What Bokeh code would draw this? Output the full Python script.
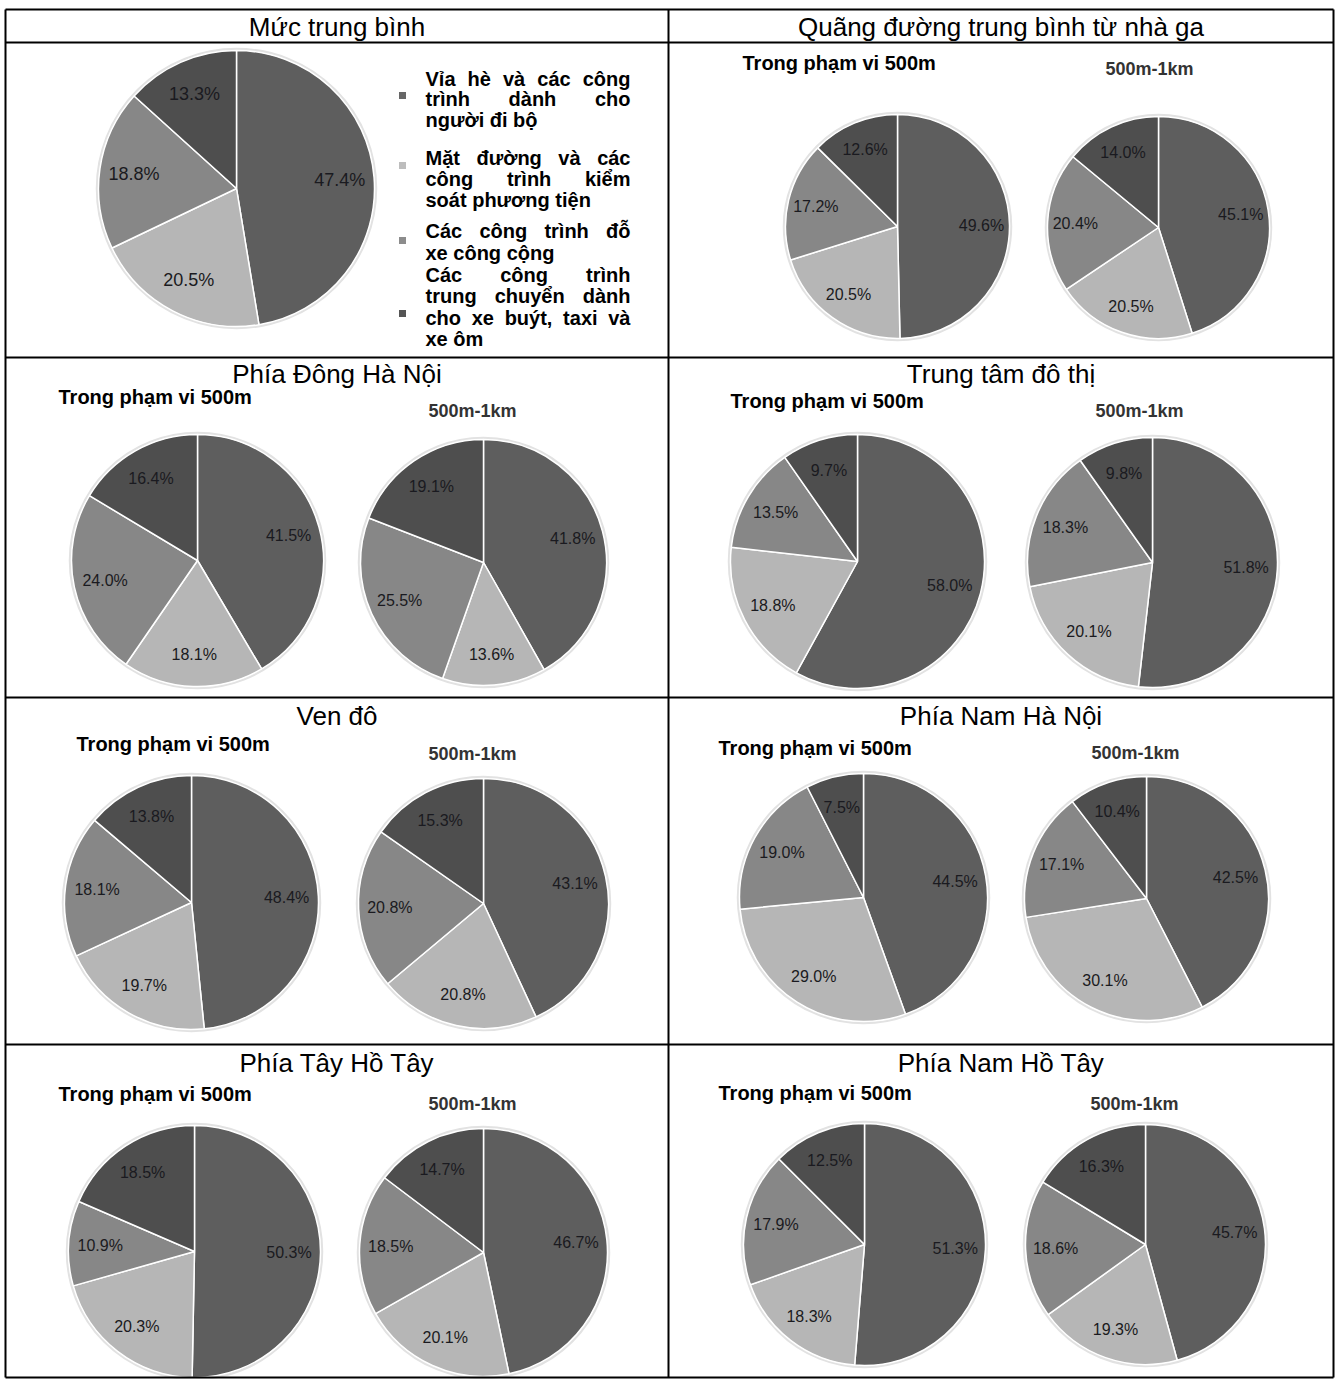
import glob
import numpy as np
from bokeh.plotting import figure
from bokeh.models import ColumnDataSource, Range1d
from bokeh.core.properties import value
from bokeh.embed import file_html
from bokeh.resources import INLINE

# ---- data -----------------------------------------------------------------
categories = [
    "Vỉa hè và các công trình dành cho người đi bộ",
    "Mặt đường và các công trình kiểm soát phương tiện",
    "Các công trình đỗ xe công cộng",
    "Các công trình trung chuyển dành cho xe buýt, taxi và xe ôm",
]
# legend text broken into the printed lines of each entry
legend_lines = [
    ["Vỉa hè và các công", "trình dành cho", "người đi bộ"],
    ["Mặt đường và các", "công trình kiểm", "soát phương tiện"],
    ["Các công trình đỗ", "xe công cộng"],
    ["Các công trình", "trung chuyển dành", "cho xe buýt, taxi và", "xe ôm"],
]
panel_titles = [
    "Mức trung bình", "Quãng đường trung bình từ nhà ga",
    "Phía Đông Hà Nội", "Trung tâm đô thị",
    "Ven đô", "Phía Nam Hà Nội",
    "Phía Tây Hồ Tây", "Phía Nam Hồ Tây",
]
sub_near = "Trong phạm vi 500m"
sub_far = "500m-1km"

avg_all = [47.4, 20.5, 18.8, 13.3]
station_500 = [49.6, 20.5, 17.2, 12.6]
station_1km = [45.1, 20.5, 20.4, 14.0]
east_500 = [41.5, 18.1, 24.0, 16.4]
east_1km = [41.8, 13.6, 25.5, 19.1]
center_500 = [58.0, 18.8, 13.5, 9.7]
center_1km = [51.8, 20.1, 18.3, 9.8]
suburb_500 = [48.4, 19.7, 18.1, 13.8]
suburb_1km = [43.1, 20.8, 20.8, 15.3]
south_500 = [44.5, 29.0, 19.0, 7.5]
south_1km = [42.5, 30.1, 17.1, 10.4]
westlake_w_500 = [50.3, 20.3, 10.9, 18.5]
westlake_w_1km = [46.7, 20.1, 18.5, 14.7]
westlake_s_500 = [51.3, 18.3, 17.9, 12.5]
westlake_s_1km = [45.7, 19.3, 18.6, 16.3]

# ---- page geometry ----------------------------------------------------------
W, H = 1337, 1379
X_L, X_M, X_R = 5, 668, 1333
ROW_LINES = [9, 42, 357, 697, 1044, 1377]

SLICE_COLORS = ["#5e5e5e", "#b6b6b6", "#878787", "#4e4e4e"]
MARK_COLORS = ["#676767", "#bdbdbd", "#8c8c8c", "#555555"]
FONT = "Liberation Sans"


def Y(top):
    return H - top


p = figure(width=W, height=H, output_backend="svg", toolbar_location=None,
           x_range=Range1d(0, W), y_range=Range1d(0, H),
           x_axis_location=None, y_axis_location=None, min_border=0)
p.grid.visible = False
p.outline_line_color = None
p.background_fill_color = "white"
p.border_fill_color = "white"


def draw_pie(vals, cx, cy, r, fs):
    v = np.array(vals, dtype=float)
    frac = v / v.sum()
    c1 = np.cumsum(frac)
    c0 = c1 - frac
    start = np.pi / 2 - 2 * np.pi * c1
    end = np.pi / 2 - 2 * np.pi * c0
    src = ColumnDataSource(dict(start=start, end=end, color=SLICE_COLORS))
    # soft rim around each pie
    p.circle(x=cx, y=Y(cy), radius=r + 1.5, fill_color=None,
             line_color="#e2e2e2", line_width=2.5)
    p.wedge(x=cx, y=Y(cy), radius=r, start_angle="start", end_angle="end",
            fill_color="color", line_color="white", line_width=1.5, source=src)
    mid = np.pi / 2 - 2 * np.pi * (c0 + c1) / 2
    lsrc = ColumnDataSource(dict(
        x=cx + 0.75 * r * np.cos(mid),
        y=Y(cy) + 0.75 * r * np.sin(mid),
        t=[f"{x:.1f}%" for x in vals]))
    p.text(x="x", y="y", text="t", source=lsrc, text_font=value(FONT),
           text_font_size=f"{fs}px", text_color="#1a1a20",
           text_align="center", text_baseline="middle")


def label(x, top, txt, size, bold=False, align="center", color="#000000"):
    p.text(x=[x], y=[Y(top)], text=[txt], text_font=value(FONT),
           text_font_size=f"{size}px", text_font_style="bold" if bold else "normal",
           text_color=color, text_align=align, text_baseline="middle")


# ---- text measuring for the justified legend ---------------------------------
def _font_path(name):
    for root in ("/usr/share/fonts", "/usr/local/share/fonts", "/usr/share"):
        hits = glob.glob(f"{root}/**/{name}", recursive=True)
        if hits:
            return hits[0]
    return None


_BOLD_PATH = _font_path("LiberationSans-Bold.ttf")


def text_len(s, size):
    if _BOLD_PATH:
        try:
            from PIL import ImageFont
            return ImageFont.truetype(_BOLD_PATH, size).getlength(s)
        except Exception:
            pass
    return 0.58 * size * len(s)


def justified(lines, tops, x0, x1, size):
    xs, ys, ts = [], [], []
    for i, (line, top) in enumerate(zip(lines, tops)):
        words = line.split()
        if i == len(lines) - 1 or len(words) == 1:
            xs.append(x0); ys.append(Y(top)); ts.append(line)
            continue
        widths = [text_len(w, size) for w in words]
        gap = (x1 - x0 - sum(widths)) / (len(words) - 1)
        x = x0
        for w, wd in zip(words, widths):
            xs.append(x); ys.append(Y(top)); ts.append(w)
            x += wd + gap
    p.text(x=xs, y=ys, text=ts, text_font=value(FONT), text_font_size=f"{size}px",
           text_font_style="bold", text_color="#000000",
           text_align="left", text_baseline="middle")


# ---- panel 1: overall average with legend -----------------------------------
label((X_L + X_M) / 2, 26, panel_titles[0], 26)
draw_pie(avg_all, 236, 188, 138, 18)

legend_tops = [[78, 98, 119], [157, 178, 199], [230, 252], [274, 295, 317, 338]]
marker_tops = [95, 165, 240, 313]
for lines, tops in zip(legend_lines, legend_tops):
    justified(lines, tops, 425, 630, 20)
p.rect(x=[402] * 4, y=[Y(t) for t in marker_tops], width=7, height=7,
       fill_color=MARK_COLORS, line_color=None)

# ---- panels with two pies --------------------------------------------------
panels = [
    # title, near, far, title top, near-sub (x, top), far-sub (x, top), pies
    (panel_titles[1], station_500, station_1km, 26, (742, 62), (1149, 68),
     ((897, 226, 112), (1158, 227, 111))),
    (panel_titles[2], east_500, east_1km, 373, (58, 396), (472, 410),
     ((197, 560, 126), (483, 562, 123))),
    (panel_titles[3], center_500, center_1km, 373, (730, 400), (1139, 410),
     ((857, 561, 127), (1152, 562, 125))),
    (panel_titles[4], suburb_500, suburb_1km, 715, (76, 743), (472, 753),
     ((191, 902, 127), (483, 903, 125))),
    (panel_titles[5], south_500, south_1km, 715, (718, 747), (1135, 752),
     ((863, 897, 124), (1146, 898, 122))),
    (panel_titles[6], westlake_w_500, westlake_w_1km, 1062, (58, 1093), (472, 1103),
     ((194, 1251, 126), (483, 1252, 124))),
    (panel_titles[7], westlake_s_500, westlake_s_1km, 1062, (718, 1092), (1134, 1103),
     ((864, 1244, 121), (1145, 1244, 120))),
]

for k, (title, near, far, t_top, s1, s2, pies) in enumerate(panels):
    col_mid = (X_M + X_R) / 2 if (k % 2 == 0) else (X_L + X_M) / 2
    label(col_mid, t_top, title, 26)
    label(s1[0], s1[1], sub_near, 20, bold=True, align="left")
    label(s2[0], s2[1], sub_far, 18, bold=True, color="#333333")
    for vals, (cx, cy, r) in zip((near, far), pies):
        draw_pie(vals, cx, cy, r, 16)

# ---- table rules -------------------------------------------------------------
p.segment(x0=[X_L, X_M, X_R], y0=[Y(ROW_LINES[0])] * 3,
          x1=[X_L, X_M, X_R], y1=[Y(ROW_LINES[-1])] * 3,
          line_color="black", line_width=2)
p.segment(x0=[X_L] * len(ROW_LINES), y0=[Y(t) for t in ROW_LINES],
          x1=[X_R] * len(ROW_LINES), y1=[Y(t) for t in ROW_LINES],
          line_color="black", line_width=2)

open("out.html", "w").write(file_html(p, INLINE))
